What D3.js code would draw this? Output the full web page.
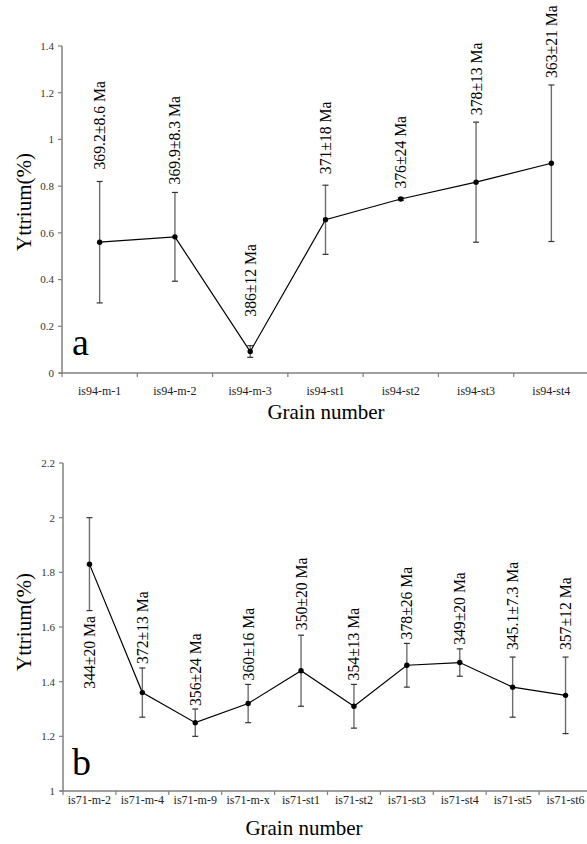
<!DOCTYPE html>
<html>
<head>
<meta charset="utf-8">
<script src="https://cdn.jsdelivr.net/npm/d3@7"></script>
<style>
  body { margin: 0; background: #fff; }
</style>
</head>
<body>
<div id="chart"></div>
<script>
/*---------- DATA ----------*/
// Panel a
const grainsA = ["is94-m-1", "is94-m-2", "is94-m-3", "is94-st1", "is94-st2", "is94-st3", "is94-st4"];
const yttriumA = [0.56, 0.583, 0.092, 0.656, 0.745, 0.817, 0.898];
const errA = [0.26, 0.19, 0.025, 0.148, 0.006, 0.257, 0.335];
const agesA = ["369.2±8.6 Ma", "369.9±8.3 Ma", "386±12 Ma", "371±18 Ma", "376±24 Ma", "378±13 Ma", "363±21 Ma"];
const ticksA = [0, 0.2, 0.4, 0.6, 0.8, 1, 1.2, 1.4];

// Panel b
const grainsB = ["is71-m-2", "is71-m-4", "is71-m-9", "is71-m-x", "is71-st1", "is71-st2", "is71-st3", "is71-st4", "is71-st5", "is71-st6"];
const yttriumB = [1.83, 1.36, 1.25, 1.32, 1.44, 1.31, 1.46, 1.47, 1.38, 1.35];
const errB = [0.17, 0.09, 0.05, 0.07, 0.13, 0.08, 0.08, 0.05, 0.11, 0.14];
const agesB = ["344±20 Ma", "372±13 Ma", "356±24 Ma", "360±16 Ma", "350±20 Ma", "354±13 Ma", "378±26 Ma", "349±20 Ma", "345.1±7.3 Ma", "357±12 Ma"];
const ticksB = [1, 1.2, 1.4, 1.6, 1.8, 2, 2.2];

/*---------- LAYOUT ----------*/
// gap (px) between the top of each error bar and the start of its age label
const labelGapA = [12, 8, 29, 11, 9, 7, 7];
const labelGapB = [-171, 4, 3, 4, 5, 4, 4, 4, 7, 7];

const width = 587;
const height = 844;
const serif = '"Liberation Serif", "Times New Roman", Times, "DejaVu Serif", serif';

const svg = d3
  .select("#chart")
  .append("svg")
  .attr("width", width)
  .attr("height", height)
  .attr("font-family", serif)
  .attr("viewBox", `0 0 ${width} ${height}`);

/*---------- PLOTTING ----------*/
function drawPanel(opt) {
  const g = svg.append("g");

  const x = d3.scaleBand().domain(opt.grains).range([opt.left, opt.right]).paddingInner(0).paddingOuter(0);
  const y = d3.scaleLinear().domain(opt.domain).range([opt.bottom, opt.top]);
  const cx = (d) => x(d) + x.bandwidth() / 2;

  const axisColor = "#7f7f7f";

  // y axis line + ticks
  g.append("line")
    .attr("x1", opt.left).attr("x2", opt.left)
    .attr("y1", y(opt.domain[0])).attr("y2", y(opt.domain[1]))
    .attr("stroke", axisColor).attr("stroke-width", 1.5);

  g.selectAll("line.ytick")
    .data(opt.ticks)
    .join("line")
    .attr("class", "ytick")
    .attr("x1", opt.left - 4).attr("x2", opt.left)
    .attr("y1", (d) => y(d)).attr("y2", (d) => y(d))
    .attr("stroke", axisColor).attr("stroke-width", 1.2);

  g.selectAll("text.ylab")
    .data(opt.ticks)
    .join("text")
    .attr("class", "ylab")
    .attr("x", opt.left - 8)
    .attr("y", (d) => y(d))
    .attr("dy", "0.35em")
    .attr("text-anchor", "end")
    .attr("font-size", "11px")
    .attr("fill", "#333")
    .text((d) => d3.format("~g")(d));

  // x axis line + boundary ticks
  g.append("line")
    .attr("x1", opt.left - 3).attr("x2", opt.right)
    .attr("y1", opt.bottom).attr("y2", opt.bottom)
    .attr("stroke", axisColor).attr("stroke-width", 1.5);

  const bounds = opt.grains.map((d) => x(d)).concat([opt.right]);
  g.selectAll("line.xtick")
    .data(bounds)
    .join("line")
    .attr("class", "xtick")
    .attr("x1", (d) => d).attr("x2", (d) => d)
    .attr("y1", opt.bottom).attr("y2", opt.bottom + 4)
    .attr("stroke", axisColor).attr("stroke-width", 1.2);

  g.selectAll("text.xlab")
    .data(opt.grains)
    .join("text")
    .attr("class", "xlab")
    .attr("x", cx)
    .attr("y", opt.bottom + opt.xLabelOffset)
    .attr("text-anchor", "middle")
    .attr("font-size", "12px")
    .attr("fill", "#222")
    .text((d) => d);

  // axis titles
  g.append("text")
    .attr("x", opt.titleX)
    .attr("y", opt.titleY)
    .attr("text-anchor", "middle")
    .attr("font-size", "21px")
    .text("Grain number");

  g.append("text")
    .attr("transform", `translate(31, ${opt.yTitleY}) rotate(-90)`)
    .attr("text-anchor", "middle")
    .attr("font-size", "21px")
    .text("Yttrium(%)");

  // panel letter
  g.append("text")
    .attr("x", 72)
    .attr("y", opt.letterY)
    .attr("font-size", "38px")
    .text(opt.letter);

  const pts = opt.grains.map((d, i) => ({
    x: cx(d),
    v: opt.values[i],
    e: opt.errors[i],
    age: opt.ages[i],
    gap: opt.gaps[i],
  }));

  // error bars
  const eb = g.selectAll("g.err").data(pts).join("g").attr("class", "err");
  eb.append("line")
    .attr("x1", (d) => d.x).attr("x2", (d) => d.x)
    .attr("y1", (d) => y(d.v - d.e)).attr("y2", (d) => y(d.v + d.e))
    .attr("stroke", "#6e6e6e").attr("stroke-width", 1.4);
  eb.append("line")
    .attr("x1", (d) => d.x - 3).attr("x2", (d) => d.x + 3)
    .attr("y1", (d) => y(d.v + d.e)).attr("y2", (d) => y(d.v + d.e))
    .attr("stroke", "#333").attr("stroke-width", 1.2);
  eb.append("line")
    .attr("x1", (d) => d.x - 3).attr("x2", (d) => d.x + 3)
    .attr("y1", (d) => y(d.v - d.e)).attr("y2", (d) => y(d.v - d.e))
    .attr("stroke", "#333").attr("stroke-width", 1.2);

  // connecting line
  const line = d3.line().x((d) => d.x).y((d) => y(d.v));
  g.append("path")
    .datum(pts)
    .attr("d", line)
    .attr("fill", "none")
    .attr("stroke", "#000")
    .attr("stroke-width", 1.2);

  // markers
  g.selectAll("circle.pt")
    .data(pts)
    .join("circle")
    .attr("class", "pt")
    .attr("cx", (d) => d.x)
    .attr("cy", (d) => y(d.v))
    .attr("r", 2.7)
    .attr("fill", "#000");

  // age labels
  g.selectAll("text.age")
    .data(pts)
    .join("text")
    .attr("class", "age")
    .attr("transform", (d) => `translate(${d.x}, ${y(d.v + d.e) - d.gap}) rotate(-90)`)
    .attr("dy", "0.35em")
    .attr("font-size", "15.7px")
    .text((d) => d.age);
}

drawPanel({
  grains: grainsA, values: yttriumA, errors: errA, ages: agesA, ticks: ticksA,
  gaps: labelGapA, domain: [0, 1.4],
  left: 62, right: 589, top: 46, bottom: 373,
  xLabelOffset: 22, titleX: 326, titleY: 419, yTitleY: 202,
  letter: "a", letterY: 355,
});

drawPanel({
  grains: grainsB, values: yttriumB, errors: errB, ages: agesB, ticks: ticksB,
  gaps: labelGapB, domain: [1, 2.2],
  left: 63, right: 592, top: 463, bottom: 791,
  xLabelOffset: 13, titleX: 304, titleY: 835, yTitleY: 622,
  letter: "b", letterY: 775,
});
</script>
</body>
</html>
